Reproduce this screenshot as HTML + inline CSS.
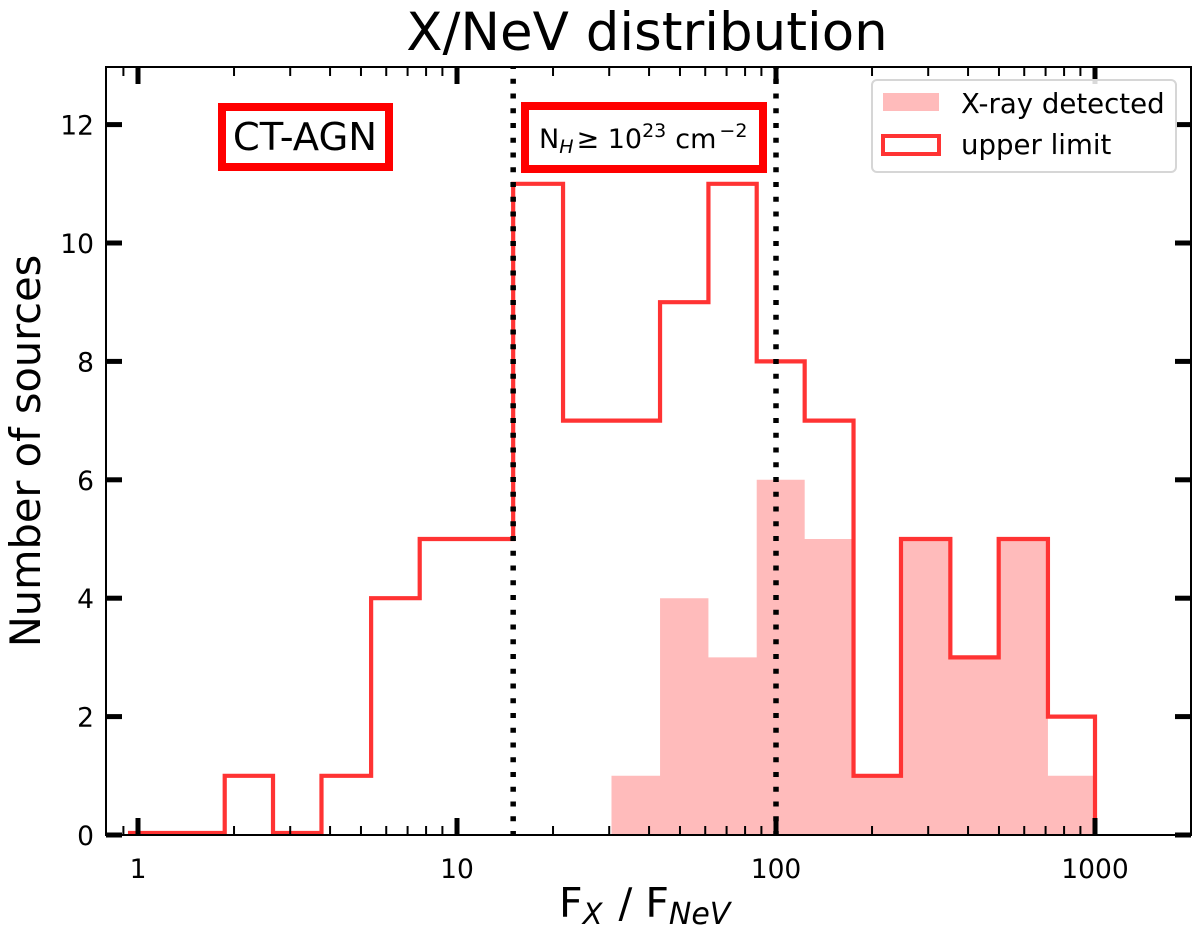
<!DOCTYPE html>
<html>
<head>
<meta charset="utf-8">
<style>
html,body{margin:0;padding:0;background:#fff;width:1200px;height:931px;overflow:hidden}
svg{display:block}
text{font-family:"DejaVu Sans",sans-serif;fill:#000}
</style>
</head>
<body>
<svg id="chart" xmlns="http://www.w3.org/2000/svg" width="1200" height="931" viewBox="0 0 1200 931">
  <text x="647" y="50" font-size="53" text-anchor="middle">X/NeV distribution</text>
  <g id="hist"></g>
  <g id="refs"></g>
  <g id="axes"></g>
  <rect x="222" y="107" width="167" height="60" fill="#fff" stroke="#f00" stroke-width="8"/>
  <text x="305" y="150" font-size="38.5" text-anchor="middle">CT-AGN</text>
  <rect x="525" y="106" width="238" height="63" fill="#fff" stroke="#f00" stroke-width="8"/>
  <text x="539" y="148" font-size="27">N<tspan font-size="19" dy="5" font-style="italic">H</tspan><tspan dy="-5" dx="3">≥ 10</tspan><tspan font-size="19" dy="-11">23</tspan><tspan dy="11" dx="9">cm</tspan><tspan font-size="19" dy="-11" dx="3">−2</tspan></text>
  <g>
    <rect x="872" y="80" width="304" height="92" rx="5" fill="#fff" fill-opacity="0.85" stroke="#d6d6d6" stroke-width="2"/>
    <rect x="883" y="93" width="56" height="18" fill="#ffbbbb"/>
    <text x="961" y="113" font-size="27.6">X-ray detected</text>
    <rect x="883" y="136" width="56" height="18" fill="#fff" stroke="#ff3333" stroke-width="4"/>
    <text x="961" y="154" font-size="27.6">upper limit</text>
  </g>
  <text x="559" y="917" font-size="41">F<tspan font-size="29" font-style="italic" dy="7">X</tspan><tspan dy="-7" dx="16">/ F</tspan><tspan font-size="30" font-style="italic" dy="7">NeV</tspan></text>
  <text transform="translate(40,451) rotate(-90)" font-size="41.5" text-anchor="middle">Number of sources</text>
</svg>
<script>
var binEdges = [0.93,1.32,1.87,2.65,3.76,5.38,7.64,10.7,15,21.5,30.5,43.3,61.4,87,123,175,246.5,352,499,712,1000];
var upperLimitCounts = [0,0,1,0,1,4,5,5,11,7,7,9,11,8,7,1,5,3,5,2];
var detectedCounts = [0,0,0,0,0,0,0,0,0,0,1,4,3,6,5,1,5,3,5,1];
var yTicks = [0,2,4,6,8,10,12];
var xMajorTicks = [1,10,100,1000];
var xMinorTicks = [0.9,2,3,4,5,6,7,8,9,20,30,40,50,60,70,80,90,200,300,400,500,600,700,800,900];
var referenceValues = [15,100];

var NS = 'http://www.w3.org/2000/svg';
var plotLeft = 106, plotRight = 1191, plotTop = 67, plotBottom = 835;
function xPos(v){ return 138 + 319 * Math.log10(v); }
function yPos(v){ return plotBottom - 59.2 * v; }
function make(parent, tag, attrs){
  var el = document.createElementNS(NS, tag);
  for (var k in attrs) el.setAttribute(k, attrs[k]);
  parent.appendChild(el);
  return el;
}
var hist = document.getElementById('hist');
var refs = document.getElementById('refs');
var axes = document.getElementById('axes');

var fillPath = 'M' + xPos(binEdges[0]) + ' ' + yPos(0);
detectedCounts.forEach(function(c, i){
  fillPath += ' L' + xPos(binEdges[i]) + ' ' + yPos(c) + ' L' + xPos(binEdges[i+1]) + ' ' + yPos(c);
});
fillPath += ' L' + xPos(binEdges[binEdges.length-1]) + ' ' + yPos(0) + ' Z';
var area = make(hist, 'path', {d: fillPath, fill: '#ffbbbb'});



var d = 'M' + xPos(binEdges[0]) + ' ' + (yPos(0) - 2);
upperLimitCounts.forEach(function(c, i){
  var yy = c === 0 ? yPos(0) - 2 : yPos(c);
  d += ' L' + xPos(binEdges[i]) + ' ' + yy + ' L' + xPos(binEdges[i+1]) + ' ' + yy;
});
d += ' L' + xPos(binEdges[binEdges.length-1]) + ' ' + yPos(0);
var step = make(hist, 'path', {d: d, fill: 'none', stroke: '#ff3333', 'stroke-width': 4.2, 'stroke-linejoin': 'miter'});



referenceValues.forEach(function(v){
  var l = make(refs, 'line', {x1: xPos(v), x2: xPos(v), y1: plotBottom + 1, y2: plotTop, stroke: '#000', 'stroke-width': 5.5, 'stroke-dasharray': '5 9.75'});
  
  
});

xMinorTicks.forEach(function(v){
  var x = xPos(v);
  [[plotBottom, plotBottom - 9], [plotTop, plotTop + 9]].forEach(function(p){
    var t = make(axes, 'line', {x1: x, x2: x, y1: p[0], y2: p[1], stroke: '#000', 'stroke-width': 2});
    
    
  });
});
xMajorTicks.forEach(function(v){
  var x = xPos(v);
  [[plotBottom, plotBottom - 17], [plotTop, plotTop + 17]].forEach(function(p){
    var t = make(axes, 'line', {x1: x, x2: x, y1: p[0], y2: p[1], stroke: '#000', 'stroke-width': 5});
    
    
  });
  var lab = make(axes, 'text', {x: x, y: 878, 'font-size': 26.5, 'text-anchor': 'middle'});
  lab.textContent = String(v);
  
  
});
yTicks.forEach(function(v){
  var y = yPos(v);
  [[plotLeft, plotLeft + 16], [plotRight, plotRight - 16]].forEach(function(p){
    var t = make(axes, 'line', {x1: p[0], x2: p[1], y1: y, y2: y, stroke: '#000', 'stroke-width': 5});
    
    
  });
  var lab = make(axes, 'text', {x: 94, y: y + 10, 'font-size': 26.5, 'text-anchor': 'end'});
  lab.textContent = String(v);
  
  
});
var frame = make(axes, 'rect', {x: plotLeft, y: plotTop, width: plotRight - plotLeft, height: plotBottom - plotTop, fill: 'none', stroke: '#000', 'stroke-width': 2});


</script>
</body>
</html>
